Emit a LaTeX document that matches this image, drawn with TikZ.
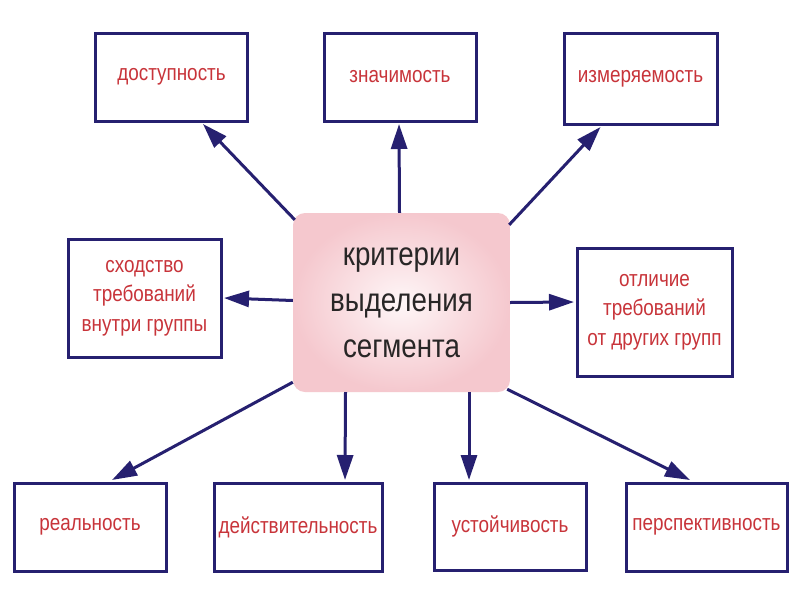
\documentclass[tikz,border=0pt]{standalone}
\usepackage{fontspec}
\newfontfamily\nar{Liberation Sans}[FakeStretch=0.84]
\usetikzlibrary{arrows.meta,calc}
\definecolor{navy}{RGB}{38,32,112}
\definecolor{txtred}{RGB}{200,52,58}
\definecolor{txtgray}{RGB}{40,38,38}
\definecolor{pinkin}{RGB}{254,246,247}
\definecolor{pinkout}{RGB}{245,200,206}
\tikzset{
  crit/.style={draw=navy, line width=3pt, fill=white, rectangle, inner sep=2pt,
    text=txtred, align=center, font=\nar\fontsize{22.5}{29.5}\selectfont},
  hub/.style={rectangle, rounded corners=12pt, inner color=pinkin, outer color=pinkout,
    text=txtgray, align=center, font=\nar\fontsize{33}{46}\selectfont,
    minimum width=217pt, minimum height=179pt},
  link/.style={draw=navy, line width=3pt, -{Triangle[length=25pt,width=16pt]}}
}
\begin{document}
\begin{tikzpicture}[x=1pt,y=-1pt]
\useasboundingbox (0,0) rectangle (800,600);
\fill[white] (0,0) rectangle (800,600);
\node[hub] (c) at (401.5,302.5) {критерии\\выделения\\сегмента};
\node[crit, minimum width=152pt, minimum height=88pt] (dost) at (171.5,77) {доступность};
\node[crit, minimum width=152pt, minimum height=88pt] (zn) at (400,77) {значимость};
\node[crit, minimum width=153pt, minimum height=91pt] (izm) at (640.5,78.5) {измеряемость};
\node[crit, minimum width=153pt, minimum height=118pt] (sh) at (144.5,298) {сходство\\требований\\внутри группы};
\node[crit, minimum width=155pt, minimum height=128pt] (ot) at (654.5,312) {отличие\\требований\\от других групп};
\node[crit, minimum width=152pt, minimum height=88pt] (re) at (90,527) {реальность};
\node[crit, minimum width=168pt, minimum height=88pt] (de) at (298,527) {действительность};
\node[crit, minimum width=152pt, minimum height=87pt] (us) at (510,526.5) {устойчивость};
\node[crit, minimum width=161pt, minimum height=88pt] (pe) at (706.5,527) {перспективность};
\draw[link] ($(c.north west)+(2,7)$) -- ($(dost.south)+(31.5,1.5)$);
\draw[link] ($(c.north)+(-2,0)$) -- ($(zn.south)+(-1,1.5)$);
\draw[link] ($(c.north east)+(-1,12)$) -- ($(izm.south)+(-40,1.5)$);
\draw[link] ($(c.west)+(0,-2)$) -- ($(sh.east)+(1.5,0)$);
\draw[link] (c.east) -- ($(ot.west)+(-1.5,-10)$);
\draw[link] ($(c.south west)+(0,-10)$) -- ($(re.north)+(22,-1.5)$);
\draw[link] ($(c.south)+(-56,0)$) -- ($(de.north)+(47,-1.5)$);
\draw[link] ($(c.south)+(67.5,0)$) -- ($(us.north)+(-41,-1.5)$);
\draw[link] ($(c.south east)+(-3,-3)$) -- ($(pe.north)+(-16.5,-1.5)$);
\end{tikzpicture}
\end{document}
